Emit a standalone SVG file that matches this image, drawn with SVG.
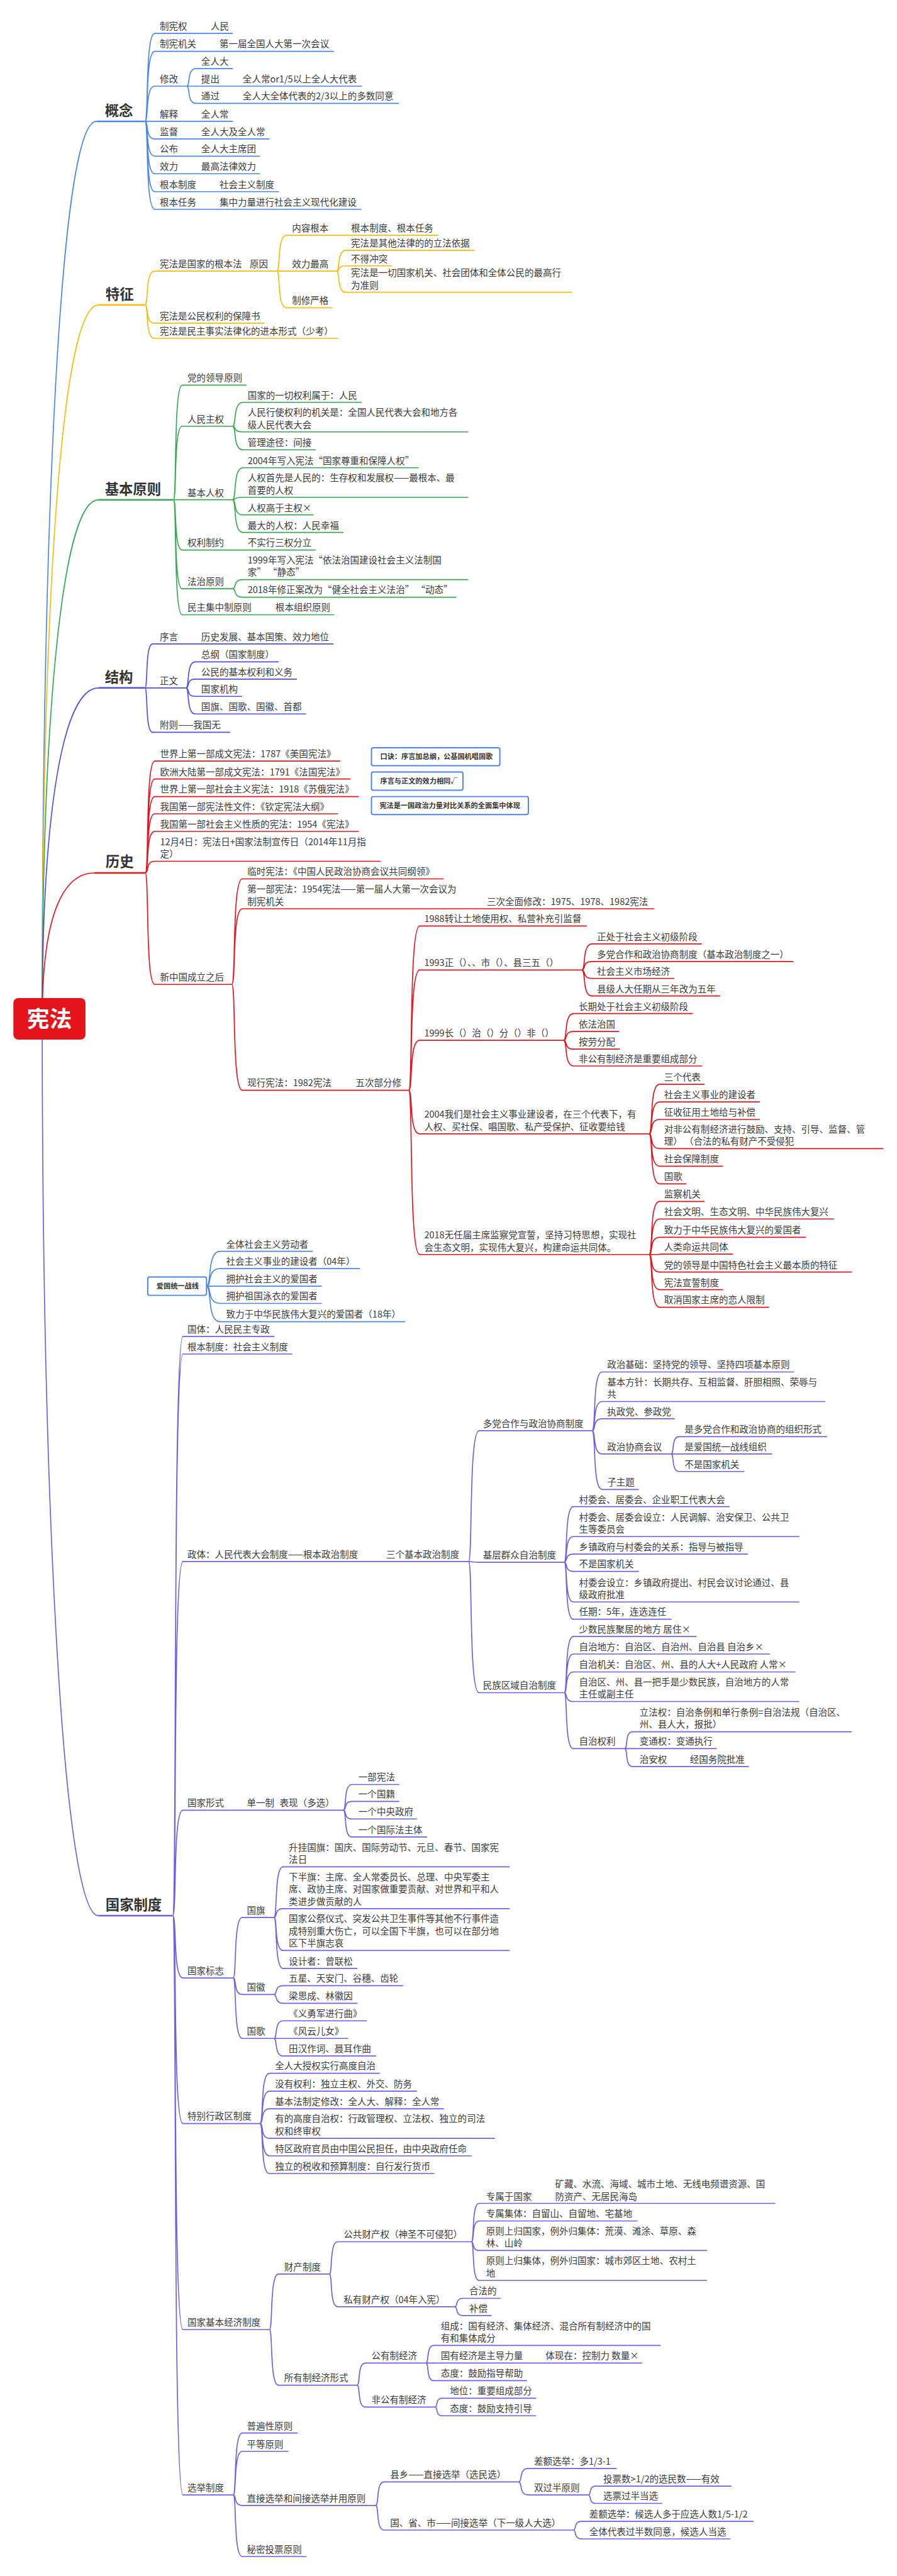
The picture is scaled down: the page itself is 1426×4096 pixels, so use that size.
<svg xmlns="http://www.w3.org/2000/svg" width="1426" height="4096" viewBox="0 0 1426 4096">
<style>
.t{font-family:"Noto Sans CJK SC","Noto Sans",sans-serif;font-size:26px;fill:#3a3a3a}
.h{font-size:40px;font-weight:700;fill:#333}
.bx{font-size:20px;font-weight:700;fill:#333}
.u{fill:none;stroke-width:3;stroke-linecap:round}
.m{fill:none;stroke-width:4.5}
.k1{stroke:#4a86e8}.k2{stroke:#f8bc0c}.k3{stroke:#38a852}.k4{stroke:#4b4ff0}.k5{stroke:#e6141d}.k6{stroke:#6e5fe4}
#connectors path{fill:none;stroke-width:3}
.box{fill:#fff;stroke:#4a86e8;stroke-width:3.5}
</style>
<rect width="1426" height="4096" fill="#fff"/>
<g transform="scale(0.55922)">
<g id="connectors">
<g class="k1">
<path class="m" d="M120 2895C120 1500 170 345 274 345"/>
<path d="M412 345C423 345 412 95 440 95M412 345C423 345 412 146 440 146M412 345C423 345 412 245 440 245M412 345H440M412 345C423 345 412 395 440 395M412 345C423 345 412 444 440 444M412 345C423 345 412 494 440 494M412 345C423 345 412 545 440 545M412 345C423 345 412 595 440 595"/>
<path d="M531 245C541 245 531 195 557 195M531 245H557M531 245C541 245 531 294 557 294"/>
<path d="M587 3657C603 3657 587 3558 626 3558M587 3657C603 3657 587 3607 626 3607M587 3657H626M587 3657C603 3657 587 3706 626 3706M587 3657C603 3657 587 3758 626 3758"/>
</g>
<g class="k2">
<path class="m" d="M120 2895C120 1700 175 867 280 867"/>
<path d="M412 867C423 867 412 771 439 771M412 867C423 867 412 919 439 919M412 867C423 867 412 962 439 962"/>
<path d="M787 771C798 771 787 669 814 669M787 771H814M787 771C798 771 787 875 814 875"/>
<path d="M957 771C967 771 957 712 983 712M957 771C967 771 957 756 983 756M957 771C967 771 957 831 983 831"/>
</g>
<g class="k3">
<path class="m" d="M120 2895C120 2000 180 1421 280 1421"/>
<path d="M493 1421C503 1421 493 1095 518 1095M493 1421C503 1421 493 1212 518 1212M493 1421H518M493 1421C503 1421 493 1564 518 1564M493 1421C503 1421 493 1674 518 1674M493 1421C503 1421 493 1748 518 1748"/>
<path d="M661 1212C673 1212 661 1144 691 1144M661 1212C673 1212 661 1228 691 1228M661 1212C673 1212 661 1279 691 1279"/>
<path d="M661 1421C673 1421 661 1330 691 1330M661 1421C673 1421 661 1414 691 1414M661 1421C673 1421 661 1464 691 1464M661 1421C673 1421 661 1514 691 1514"/>
<path d="M661 1674C673 1674 661 1648 691 1648M661 1674C673 1674 661 1698 691 1698"/>
</g>
<g class="k4">
<path class="m" d="M120 2895C120 2300 180 1956 280 1956"/>
<path d="M412 1956C421 1956 412 1831 434 1831M412 1956H434M412 1956C421 1956 412 2082 434 2082"/>
<path d="M529 1956C539 1956 529 1882 555 1882M529 1956C539 1956 529 1931 555 1931M529 1956C539 1956 529 1980 555 1980M529 1956C539 1956 529 2030 555 2030"/>
</g>
<g class="k5">
<path class="m" d="M120 2895C120 2600 180 2482 268 2482"/>
<path d="M413 2482C424 2482 413 2164 440 2164M413 2482C424 2482 413 2215 440 2215M413 2482C424 2482 413 2265 440 2265M413 2482C424 2482 413 2314 440 2314M413 2482C424 2482 413 2364 440 2364M413 2482C424 2482 413 2449 440 2449M413 2482C424 2482 413 2799 440 2799"/>
<path d="M659 2799C671 2799 659 2499 689 2499M659 2799C671 2799 659 2584 689 2584M659 2799C671 2799 659 3100 689 3100"/>
<path d="M1162 3100C1174 3100 1162 2633 1193 2633M1162 3100C1174 3100 1162 2758 1193 2758M1162 3100C1174 3100 1162 2958 1193 2958M1162 3100C1174 3100 1162 3224 1193 3224M1162 3100C1174 3100 1162 3567 1193 3567"/>
<path d="M1654 2758C1666 2758 1654 2684 1683 2684M1654 2758C1666 2758 1654 2734 1683 2734M1654 2758C1666 2758 1654 2782 1683 2782M1654 2758C1666 2758 1654 2832 1683 2832"/>
<path d="M1602 2958C1614 2958 1602 2882 1631 2882M1602 2958C1614 2958 1602 2933 1631 2933M1602 2958C1614 2958 1602 2983 1631 2983M1602 2958C1614 2958 1602 3031 1631 3031"/>
<path d="M1845 3224C1857 3224 1845 3083 1875 3083M1845 3224C1857 3224 1845 3133 1875 3133M1845 3224C1857 3224 1845 3183 1875 3183M1845 3224C1857 3224 1845 3266 1875 3266M1845 3224C1857 3224 1845 3316 1875 3316M1845 3224C1857 3224 1845 3366 1875 3366"/>
<path d="M1845 3567C1857 3567 1845 3416 1875 3416M1845 3567C1857 3567 1845 3466 1875 3466M1845 3567C1857 3567 1845 3518 1875 3518M1845 3567H1875M1845 3567C1857 3567 1845 3617 1875 3617M1845 3567C1857 3567 1845 3667 1875 3667M1845 3567C1857 3567 1845 3717 1875 3717"/>
</g>
<g class="k6">
<path class="m" d="M120 2895C120 4300 180 5447 280 5447"/>
<path d="M491 5447C503 5447 491 3800 520 3800M491 5447C503 5447 491 3850 520 3850M491 5447C503 5447 491 4440 520 4440M491 5447C503 5447 491 5147 520 5147M491 5447C503 5447 491 5624 520 5624M491 5447C503 5447 491 6038 520 6038M491 5447C503 5447 491 6624 520 6624M491 5447C503 5447 491 7094 520 7094"/>
<path d="M1332 4440C1344 4440 1332 4068 1362 4068M1332 4440C1344 4440 1332 4442 1362 4442M1332 4440C1344 4440 1332 4813 1362 4813"/>
<path d="M1683 4068C1695 4068 1683 3901 1712 3901M1683 4068C1695 4068 1683 3985 1712 3985M1683 4068C1695 4068 1683 4034 1712 4034M1683 4068C1695 4068 1683 4134 1712 4134M1683 4068C1695 4068 1683 4235 1712 4235"/>
<path d="M1908 4134C1917 4134 1908 4085 1930 4085M1908 4134H1930M1908 4134C1917 4134 1908 4184 1930 4184"/>
<path d="M1604 4442C1614 4442 1604 4284 1630 4284M1604 4442C1614 4442 1604 4369 1630 4369M1604 4442C1614 4442 1604 4419 1630 4419M1604 4442C1614 4442 1604 4468 1630 4468M1604 4442C1614 4442 1604 4555 1630 4555M1604 4442C1614 4442 1604 4604 1630 4604"/>
<path d="M1604 4813C1614 4813 1604 4653 1630 4653M1604 4813C1614 4813 1604 4703 1630 4703M1604 4813C1614 4813 1604 4754 1630 4754M1604 4813C1614 4813 1604 4838 1630 4838M1604 4813C1614 4813 1604 4972 1630 4972"/>
<path d="M1776 4972C1785 4972 1776 4924 1798 4924M1776 4972H1798M1776 4972C1785 4972 1776 5023 1798 5023"/>
<path d="M976 5147C986 5147 976 5074 1000 5074M976 5147C986 5147 976 5122 1000 5122M976 5147C986 5147 976 5172 1000 5172M976 5147C986 5147 976 5223 1000 5223"/>
<path d="M663 5624C673 5624 663 5452 689 5452M663 5624C673 5624 663 5671 689 5671M663 5624C673 5624 663 5796 689 5796"/>
<path d="M779 5452C789 5452 779 5308 805 5308M779 5452C789 5452 779 5427 805 5427M779 5452C789 5452 779 5546 805 5546M779 5452C789 5452 779 5597 805 5597"/>
<path d="M779 5671C789 5671 779 5646 805 5646M779 5671C789 5671 779 5696 805 5696"/>
<path d="M779 5796C789 5796 779 5746 805 5746M779 5796H805M779 5796C789 5796 779 5846 805 5846"/>
<path d="M739 6038C750 6038 739 5895 766 5895M739 6038C750 6038 739 5946 766 5946M739 6038C750 6038 739 5996 766 5996M739 6038C750 6038 739 6080 766 6080M739 6038C750 6038 739 6130 766 6130M739 6038C750 6038 739 6180 766 6180"/>
<path d="M766 6624C776 6624 766 6466 792 6466M766 6624C776 6624 766 6782 792 6782"/>
<path d="M936 6466C946 6466 936 6374 960 6374M936 6466C946 6466 936 6559 960 6559"/>
<path d="M1340 6374C1349 6374 1340 6265 1362 6265M1340 6374C1349 6374 1340 6315 1362 6315M1340 6374C1349 6374 1340 6399 1362 6399M1340 6374C1349 6374 1340 6484 1362 6484"/>
<path d="M1293 6559C1302 6559 1293 6535 1316 6535M1293 6559C1302 6559 1293 6584 1316 6584"/>
<path d="M1015 6782C1025 6782 1015 6719 1039 6719M1015 6782C1025 6782 1015 6844 1039 6844"/>
<path d="M1211 6719C1220 6719 1211 6669 1233 6669M1211 6719H1233M1211 6719C1220 6719 1211 6769 1233 6769"/>
<path d="M1237 6844C1245 6844 1237 6819 1257 6819M1237 6844C1245 6844 1237 6869 1257 6869"/>
<path d="M663 7094C673 7094 663 6918 689 6918M663 7094C673 7094 663 6970 689 6970M663 7094C673 7094 663 7124 689 7124M663 7094C673 7094 663 7269 689 7269"/>
<path d="M1068 7124C1078 7124 1068 7057 1092 7057M1068 7124C1078 7124 1068 7194 1092 7194"/>
<path d="M1475 7057C1485 7057 1475 7019 1501 7019M1475 7057C1485 7057 1475 7094 1501 7094"/>
<path d="M1673 7094C1681 7094 1673 7069 1693 7069M1673 7094C1681 7094 1673 7118 1693 7118"/>
<path d="M1630 7194C1639 7194 1630 7169 1653 7169M1630 7194C1639 7194 1630 7219 1653 7219"/>
</g>
</g>

<g id="root"><rect x="38" y="2838" width="205" height="118" rx="14" fill="#e5141b"/><text class="t" x="140.5" y="2920" text-anchor="middle" style="font-size:64px;font-weight:700;fill:#fff">宪法</text></g>

<!-- 概念 -->
<g id="n-gainian"><text class="t h" x="298" y="329">概念</text><path class="m k1" d="M274 345H412"/></g>
<g id="n-zhixianquan"><text class="t" x="454" y="84">制宪权</text><text class="t" x="599" y="84">人民</text><path class="u k1" d="M440 95H661"/></g>
<g id="n-zhixianjiguan"><text class="t" x="454" y="135">制宪机关</text><text class="t" x="624" y="135">第一届全国人大第一次会议</text><path class="u k1" d="M440 146H948"/></g>
<g id="n-xiugai"><text class="t" x="454" y="234">修改</text><path class="u k1" d="M440 245H531"/></g>
<g id="n-quanrenda"><text class="t" x="572" y="184">全人大</text><path class="u k1" d="M557 195H661"/></g>
<g id="n-tichu"><text class="t" x="572" y="234">提出</text><text class="t" x="690" y="234">全人常or1/5以上全人大代表</text><path class="u k1" d="M557 245H1028"/></g>
<g id="n-tongguo"><text class="t" x="572" y="283">通过</text><text class="t" x="690" y="283">全人大全体代表的2/3以上的多数同意</text><path class="u k1" d="M557 294H1133"/></g>
<g id="n-jieshi"><text class="t" x="454" y="334">解释</text><text class="t" x="572" y="334">全人常</text><path class="u k1" d="M440 345H661"/></g>
<g id="n-jiandu"><text class="t" x="454" y="384">监督</text><text class="t" x="572" y="384">全人大及全人常</text><path class="u k1" d="M440 395H765"/></g>
<g id="n-gongbu"><text class="t" x="454" y="433">公布</text><text class="t" x="572" y="433">全人大主席团</text><path class="u k1" d="M440 444H738"/></g>
<g id="n-xiaoli"><text class="t" x="454" y="483">效力</text><text class="t" x="572" y="483">最高法律效力</text><path class="u k1" d="M440 494H738"/></g>
<g id="n-genbenzhidu"><text class="t" x="454" y="534">根本制度</text><text class="t" x="624" y="534">社会主义制度</text><path class="u k1" d="M440 545H792"/></g>
<g id="n-genbenrenwu"><text class="t" x="454" y="584">根本任务</text><text class="t" x="624" y="584">集中力量进行社会主义现代化建设</text><path class="u k1" d="M440 595H1026"/></g>

<!-- 特征 -->
<g id="n-tezheng"><text class="t h" x="300" y="852">特征</text><path class="m k2" d="M280 867H412"/></g>
<g id="n-genbenfa"><text class="t" x="454" y="760">宪法是国家的根本法</text><text class="t" x="710" y="760">原因</text><path class="u k2" d="M439 771H787"/></g>
<g id="n-neirong"><text class="t" x="830" y="658">内容根本</text><text class="t" x="998" y="658">根本制度、根本任务</text><path class="u k2" d="M814 669H1245"/></g>
<g id="n-xiaoligao"><text class="t" x="830" y="760">效力最高</text><path class="u k2" d="M814 771H957"/></g>
<g id="n-lifa"><text class="t" x="998" y="701">宪法是其他法律的的立法依据</text><path class="u k2" d="M983 712H1348"/></g>
<g id="n-butong"><text class="t" x="998" y="745">不得冲突</text><path class="u k2" d="M983 756H1114"/></g>
<g id="n-zuigao"><text class="t" x="998" y="785">宪法是一切国家机关、社会团体和全体公民的最高行</text><text class="t" x="998" y="820">为准则</text><path class="u k2" d="M983 831H1625"/></g>
<g id="n-zhixiu"><text class="t" x="830" y="864">制修严格</text><path class="u k2" d="M814 875H944"/></g>
<g id="n-baozhang"><text class="t" x="454" y="908">宪法是公民权利的保障书</text><path class="u k2" d="M439 919H751"/></g>
<g id="n-minzhu"><text class="t" x="454" y="951">宪法是民主事实法律化的进本形式（少考）</text><path class="u k2" d="M439 962H960"/></g>

<!-- 基本原则 -->
<g id="n-jbyz"><text class="t h" x="298" y="1406">基本原则</text><path class="m k3" d="M280 1421H493"/></g>
<g id="n-dang"><text class="t" x="533" y="1084">党的领导原则</text><path class="u k3" d="M518 1095H700"/></g>
<g id="n-renmin"><text class="t" x="533" y="1201">人民主权</text><path class="u k3" d="M518 1212H661"/></g>
<g id="n-rm1"><text class="t" x="704" y="1133">国家的一切权利属于：人民</text><path class="u k3" d="M691 1144H1027"/></g>
<g id="n-rm2"><text class="t" x="704" y="1182">人民行使权利的机关是：全国人民代表大会和地方各</text><text class="t" x="704" y="1217">级人民代表大会</text><path class="u k3" d="M691 1228H1330"/></g>
<g id="n-rm3"><text class="t" x="704" y="1268">管理途径：间接</text><path class="u k3" d="M691 1279H896"/></g>
<g id="n-renquan"><text class="t" x="533" y="1410">基本人权</text><path class="u k3" d="M518 1421H661"/></g>
<g id="n-rq1"><text class="t" x="704" y="1319">2004年写入宪法“国家尊重和保障人权”</text><path class="u k3" d="M691 1330H1189"/></g>
<g id="n-rq2"><text class="t" x="704" y="1368">人权首先是人民的：生存权和发展权——最根本、最</text><text class="t" x="704" y="1403">首要的人权</text><path class="u k3" d="M691 1414H1330"/></g>
<g id="n-rq3"><text class="t" x="704" y="1453">人权高于主权×</text><path class="u k3" d="M691 1464H890"/></g>
<g id="n-rq4"><text class="t" x="704" y="1503">最大的人权：人民幸福</text><path class="u k3" d="M691 1514H975"/></g>
<g id="n-zhiyue"><text class="t" x="533" y="1553">权利制约</text><text class="t" x="704" y="1553">不实行三权分立</text><path class="u k3" d="M518 1564H896"/></g>
<g id="n-fazhi"><text class="t" x="533" y="1663">法治原则</text><path class="u k3" d="M518 1674H661"/></g>
<g id="n-fz1"><text class="t" x="704" y="1602">1999年写入宪法“依法治国建设社会主义法制国</text><text class="t" x="704" y="1637">家”  “静态”</text><path class="u k3" d="M691 1648H1330"/></g>
<g id="n-fz2"><text class="t" x="704" y="1687">2018年修正案改为“健全社会主义法治”  “动态”</text><path class="u k3" d="M691 1698H1296"/></g>
<g id="n-mzjz"><text class="t" x="533" y="1737">民主集中制原则</text><text class="t" x="783" y="1737">根本组织原则</text><path class="u k3" d="M518 1748H949"/></g>

<!-- 结构 -->
<g id="n-jiegou"><text class="t h" x="298" y="1940">结构</text><path class="m k4" d="M280 1956H412"/></g>
<g id="n-xuyan"><text class="t" x="454" y="1820">序言</text><text class="t" x="572" y="1820">历史发展、基本国策、效力地位</text><path class="u k4" d="M434 1831H947"/></g>
<g id="n-zhengwen"><text class="t" x="454" y="1945">正文</text><path class="u k4" d="M434 1956H529"/></g>
<g id="n-zw1"><text class="t" x="572" y="1871">总纲（国家制度）</text><path class="u k4" d="M555 1882H791"/></g>
<g id="n-zw2"><text class="t" x="572" y="1920">公民的基本权利和义务</text><path class="u k4" d="M555 1931H843"/></g>
<g id="n-zw3"><text class="t" x="572" y="1969">国家机构</text><path class="u k4" d="M555 1980H687"/></g>
<g id="n-zw4"><text class="t" x="572" y="2019">国旗、国歌、国徽、首都</text><path class="u k4" d="M555 2030H869"/></g>
<g id="n-fuze"><text class="t" x="454" y="2071">附则——我国无</text><path class="u k4" d="M434 2082H653"/></g>

<!-- 历史 -->
<g id="n-lishi"><text class="t h" x="300" y="2465">历史</text><path class="m k5" d="M268 2482H413"/></g>
<g id="n-ls1"><text class="t" x="455" y="2153">世界上第一部成文宪法：1787《美国宪法》</text><path class="u k5" d="M440 2164H966"/></g>
<g id="n-ls2"><text class="t" x="455" y="2204">欧洲大陆第一部成文宪法：1791《法国宪法》</text><path class="u k5" d="M440 2215H995"/></g>
<g id="n-ls3"><text class="t" x="455" y="2254">世界上第一部社会主义宪法：1918《苏俄宪法》</text><path class="u k5" d="M440 2265H1019"/></g>
<g id="n-ls4"><text class="t" x="455" y="2303">我国第一部宪法性文件：《钦定宪法大纲》</text><path class="u k5" d="M440 2314H960"/></g>
<g id="n-ls5"><text class="t" x="455" y="2353">我国第一部社会主义性质的宪法：1954《宪法》</text><path class="u k5" d="M440 2364H1019"/></g>
<g id="n-ls6"><text class="t" x="455" y="2403">12月4日：宪法日+国家法制宣传日（2014年11月指</text><text class="t" x="455" y="2438">定）</text><path class="u k5" d="M440 2449H1081"/></g>
<g id="n-xinzhongguo"><text class="t" x="455" y="2788">新中国成立之后</text><path class="u k5" d="M440 2799H659"/></g>
<g id="n-lin"><text class="t" x="703" y="2488">临时宪法：《中国人民政治协商会议共同纲领》</text><path class="u k5" d="M689 2499H1260"/></g>
<g id="n-diyibu"><text class="t" x="703" y="2538">第一部宪法：1954宪法——第一届人大第一次会议为</text><text class="t" x="703" y="2573">制宪机关</text><text class="t" x="1384" y="2573">三次全面修改：1975、1978、1982宪法</text><path class="u k5" d="M689 2584H1859"/></g>
<g id="n-xianxing"><text class="t" x="703" y="3089">现行宪法：1982宪法</text><text class="t" x="1011" y="3089">五次部分修</text><path class="u k5" d="M689 3100H1162"/></g>
<g id="n-1988"><text class="t" x="1206" y="2622">1988转让土地使用权、私营补充引监督</text><path class="u k5" d="M1193 2633H1667"/></g>
<g id="n-1993"><text class="t" x="1206" y="2747">1993正（）、、市（）、县三五（）</text><path class="u k5" d="M1193 2758H1654"/></g>
<g id="n-93a"><text class="t" x="1697" y="2673">正处于社会主义初级阶段</text><path class="u k5" d="M1683 2684H1994"/></g>
<g id="n-93b"><text class="t" x="1697" y="2723">多党合作和政治协商制度（基本政治制度之一）</text><path class="u k5" d="M1683 2734H2254"/></g>
<g id="n-93c"><text class="t" x="1697" y="2771">社会主义市场经济</text><path class="u k5" d="M1683 2782H1916"/></g>
<g id="n-93d"><text class="t" x="1697" y="2821">县级人大任期从三年改为五年</text><path class="u k5" d="M1683 2832H2046"/></g>
<g id="n-1999"><text class="t" x="1206" y="2947">1999长（）治（）分（）非（）</text><path class="u k5" d="M1193 2958H1602"/></g>
<g id="n-99a"><text class="t" x="1645" y="2871">长期处于社会主义初级阶段</text><path class="u k5" d="M1631 2882H1968"/></g>
<g id="n-99b"><text class="t" x="1645" y="2922">依法治国</text><path class="u k5" d="M1631 2933H1759"/></g>
<g id="n-99c"><text class="t" x="1645" y="2972">按劳分配</text><path class="u k5" d="M1631 2983H1761"/></g>
<g id="n-99d"><text class="t" x="1645" y="3020">非公有制经济是重要组成部分</text><path class="u k5" d="M1631 3031H1995"/></g>
<g id="n-2004"><text class="t" x="1206" y="3178">2004我们是社会主义事业建设者，在三个代表下，有</text><text class="t" x="1206" y="3213">人权、买社保、唱国歌、私产受保护、征收要给钱</text><path class="u k5" d="M1193 3224H1845"/></g>
<g id="n-04a"><text class="t" x="1888" y="3072">三个代表</text><path class="u k5" d="M1875 3083H2002"/></g>
<g id="n-04b"><text class="t" x="1888" y="3122">社会主义事业的建设者</text><path class="u k5" d="M1875 3133H2159"/></g>
<g id="n-04c"><text class="t" x="1888" y="3172">征收征用土地给与补偿</text><path class="u k5" d="M1875 3183H2159"/></g>
<g id="n-04d"><text class="t" x="1888" y="3220">对非公有制经济进行鼓励、支持、引导、监督、管</text><text class="t" x="1888" y="3255">理） （合法的私有财产不受侵犯</text><path class="u k5" d="M1875 3266H2510"/></g>
<g id="n-04e"><text class="t" x="1888" y="3305">社会保障制度</text><path class="u k5" d="M1875 3316H2054"/></g>
<g id="n-04f"><text class="t" x="1888" y="3355">国歌</text><path class="u k5" d="M1875 3366H1950"/></g>
<g id="n-2018"><text class="t" x="1206" y="3521">2018无任届主席监察党宣誓，坚持习特思想，实现社</text><text class="t" x="1206" y="3556">会生态文明，实现伟大复兴，构建命运共同体。</text><path class="u k5" d="M1193 3567H1845"/></g>
<g id="n-18a"><text class="t" x="1888" y="3405">监察机关</text><path class="u k5" d="M1875 3416H2002"/></g>
<g id="n-18b"><text class="t" x="1888" y="3455">社会文明、生态文明、中华民族伟大复兴</text><path class="u k5" d="M1875 3466H2370"/></g>
<g id="n-18c"><text class="t" x="1888" y="3507">致力于中华民族伟大复兴的爱国者</text><path class="u k5" d="M1875 3518H2290"/></g>
<g id="n-18d"><text class="t" x="1888" y="3555">人类命运共同体</text><path class="u k5" d="M1875 3566H2082"/></g>
<g id="n-18e"><text class="t" x="1888" y="3606">党的领导是中国特色社会主义最本质的特征</text><path class="u k5" d="M1875 3617H2420"/></g>
<g id="n-18f"><text class="t" x="1888" y="3656">宪法宣誓制度</text><path class="u k5" d="M1875 3667H2054"/></g>
<g id="n-18g"><text class="t" x="1888" y="3706">取消国家主席的恋人限制</text><path class="u k5" d="M1875 3717H2185"/></g>

<!-- floating boxes -->
<g id="n-koujue"><rect class="box" x="1056" y="2126" width="365" height="51" rx="5"/><text class="t bx" x="1081" y="2158">口诀：序言加总纲，公基国机唱国歌</text></g>
<g id="n-xiaolixiangtong"><rect class="box" x="1056" y="2195" width="260" height="52" rx="5"/><text class="t bx" x="1081" y="2228">序言与正文的效力相同√</text></g>
<g id="n-zhengzhililiang"><rect class="box" x="1056" y="2265" width="446" height="51" rx="5"/><text class="t bx" x="1079" y="2298">宪法是一国政治力量对比关系的全面集中体现</text></g>

<!-- 爱国统一战线 -->
<g id="n-aiguo"><rect class="box" x="420" y="3631" width="167" height="52" rx="5"/><text class="t bx" x="445" y="3664">爱国统一战线</text></g>
<g id="n-ag1"><text class="t" x="643" y="3547">全体社会主义劳动者</text><path class="u k1" d="M626 3558H888"/></g>
<g id="n-ag2"><text class="t" x="643" y="3596">社会主义事业的建设者（04年）</text><path class="u k1" d="M626 3607H1022"/></g>
<g id="n-ag3"><text class="t" x="643" y="3646">拥护社会主义的爱国者</text><path class="u k1" d="M626 3657H914"/></g>
<g id="n-ag4"><text class="t" x="643" y="3695">拥护祖国泳衣的爱国者</text><path class="u k1" d="M626 3706H914"/></g>
<g id="n-ag5"><text class="t" x="643" y="3747">致力于中华民族伟大复兴的爱国者（18年）</text><path class="u k1" d="M626 3758H1151"/></g>

<!-- 国家制度 -->
<g id="n-guojia"><text class="t h" x="300" y="5431">国家制度</text><path class="m k6" d="M280 5447H491"/></g>
<g id="n-guoti"><text class="t" x="533" y="3789">国体：人民民主专政</text><path class="u k6" d="M520 3800H779"/></g>
<g id="n-gbzd"><text class="t" x="533" y="3839">根本制度：社会主义制度</text><path class="u k6" d="M520 3850H830"/></g>
<g id="n-zhengti"><text class="t" x="533" y="4429">政体：人民代表大会制度——根本政治制度</text><text class="t" x="1098" y="4429">三个基本政治制度</text><path class="u k6" d="M520 4440H1332"/></g>
<g id="n-duodang"><text class="t" x="1373" y="4057">多党合作与政治协商制度</text><path class="u k6" d="M1362 4068H1683"/></g>
<g id="n-dd1"><text class="t" x="1726" y="3890">政治基础：坚持党的领导、坚持四项基本原则</text><path class="u k6" d="M1712 3901H2256"/></g>
<g id="n-dd2"><text class="t" x="1726" y="3939">基本方针：长期共存、互相监督、肝胆相照、荣辱与</text><text class="t" x="1726" y="3974">共</text><path class="u k6" d="M1712 3985H2345"/></g>
<g id="n-dd3"><text class="t" x="1726" y="4023">执政党、参政党</text><path class="u k6" d="M1712 4034H1917"/></g>
<g id="n-dd4"><text class="t" x="1726" y="4123">政治协商会议</text><path class="u k6" d="M1712 4134H1908"/></g>
<g id="n-zx1"><text class="t" x="1946" y="4074">是多党合作和政治协商的组织形式</text><path class="u k6" d="M1930 4085H2350"/></g>
<g id="n-zx2"><text class="t" x="1946" y="4123">是爱国统一战线组织</text><path class="u k6" d="M1930 4134H2194"/></g>
<g id="n-zx3"><text class="t" x="1946" y="4173">不是国家机关</text><path class="u k6" d="M1930 4184H2115"/></g>
<g id="n-dd5"><text class="t" x="1726" y="4224">子主题</text><path class="u k6" d="M1712 4235H1815"/></g>
<g id="n-jiceng"><text class="t" x="1373" y="4431">基层群众自治制度</text><path class="u k6" d="M1362 4442H1604"/></g>
<g id="n-jc1"><text class="t" x="1646" y="4273">村委会、居委会、企业职工代表大会</text><path class="u k6" d="M1630 4284H2073"/></g>
<g id="n-jc2"><text class="t" x="1646" y="4323">村委会、居委会设立：人民调解、治安保卫、公共卫</text><text class="t" x="1646" y="4358">生等委员会</text><path class="u k6" d="M1630 4369H2271"/></g>
<g id="n-jc3"><text class="t" x="1646" y="4408">乡镇政府与村委会的关系：指导与被指导</text><path class="u k6" d="M1630 4419H2125"/></g>
<g id="n-jc4"><text class="t" x="1646" y="4457">不是国家机关</text><path class="u k6" d="M1630 4468H1815"/></g>
<g id="n-jc5"><text class="t" x="1646" y="4509">村委会设立：乡镇政府提出、村民会议讨论通过、县</text><text class="t" x="1646" y="4544">级政府批准</text><path class="u k6" d="M1630 4555H2271"/></g>
<g id="n-jc6"><text class="t" x="1646" y="4593">任期：5年，连选连任</text><path class="u k6" d="M1630 4604H1908"/></g>
<g id="n-minzu"><text class="t" x="1373" y="4802">民族区域自治制度</text><path class="u k6" d="M1362 4813H1604"/></g>
<g id="n-mz1"><text class="t" x="1646" y="4642">少数民族聚居的地方  居住×</text><path class="u k6" d="M1630 4653H1979"/></g>
<g id="n-mz2"><text class="t" x="1646" y="4692">自治地方：自治区、自治州、自治县  自治乡×</text><path class="u k6" d="M1630 4703H2188"/></g>
<g id="n-mz3"><text class="t" x="1646" y="4743">自治机关：自治区、州、县的人大+人民政府  人常×</text><path class="u k6" d="M1630 4754H2260"/></g>
<g id="n-mz4"><text class="t" x="1646" y="4792">自治区、州、县一把手是少数民族，自治地方的人常</text><text class="t" x="1646" y="4827">主任或副主任</text><path class="u k6" d="M1630 4838H2271"/></g>
<g id="n-mz5"><text class="t" x="1646" y="4961">自治权利</text><path class="u k6" d="M1630 4972H1776"/></g>
<g id="n-zq1"><text class="t" x="1818" y="4878">立法权：自治条例和单行条例=自治法规（自治区、</text><text class="t" x="1818" y="4913">州、县人大，报批）</text><path class="u k6" d="M1798 4924H2420"/></g>
<g id="n-zq2"><text class="t" x="1818" y="4961">变通权：变通执行</text><path class="u k6" d="M1798 4972H2036"/></g>
<g id="n-zq3"><text class="t" x="1818" y="5012">治安权</text><text class="t" x="1961" y="5012">经国务院批准</text><path class="u k6" d="M1798 5023H2128"/></g>
<g id="n-xingshi"><text class="t" x="533" y="5136">国家形式</text><text class="t" x="702" y="5136">单一制</text><text class="t" x="795" y="5136">表现（多选）</text><path class="u k6" d="M520 5147H976"/></g>
<g id="n-xs1"><text class="t" x="1019" y="5063">一部宪法</text><path class="u k6" d="M1000 5074H1134"/></g>
<g id="n-xs2"><text class="t" x="1019" y="5111">一个国籍</text><path class="u k6" d="M1000 5122H1134"/></g>
<g id="n-xs3"><text class="t" x="1019" y="5161">一个中央政府</text><path class="u k6" d="M1000 5172H1184"/></g>
<g id="n-xs4"><text class="t" x="1019" y="5212">一个国际法主体</text><path class="u k6" d="M1000 5223H1213"/></g>
<g id="n-biaozhi"><text class="t" x="533" y="5613">国家标志</text><path class="u k6" d="M520 5624H663"/></g>
<g id="n-guoqi"><text class="t" x="702" y="5441">国旗</text><path class="u k6" d="M689 5452H779"/></g>
<g id="n-gq1"><text class="t" x="821" y="5262">升挂国旗：国庆、国际劳动节、元旦、春节、国家宪</text><text class="t" x="821" y="5297">法日</text><path class="u k6" d="M805 5308H1448"/></g>
<g id="n-gq2"><text class="t" x="821" y="5346">下半旗：主席、全人常委员长、总理、中央军委主</text><text class="t" x="821" y="5381">席、政协主席、对国家做重要贡献、对世界和平和人</text><text class="t" x="821" y="5416">类进步做贡献的人</text><path class="u k6" d="M805 5427H1448"/></g>
<g id="n-gq3"><text class="t" x="821" y="5465">国家公祭仪式、突发公共卫生事件等其他不行事件造</text><text class="t" x="821" y="5500">成特别重大伤亡，可以全国下半旗，也可以在部分地</text><text class="t" x="821" y="5535">区下半旗志哀</text><path class="u k6" d="M805 5546H1448"/></g>
<g id="n-gq4"><text class="t" x="821" y="5586">设计者：曾联松</text><path class="u k6" d="M805 5597H1015"/></g>
<g id="n-guohui"><text class="t" x="702" y="5660">国徽</text><path class="u k6" d="M689 5671H779"/></g>
<g id="n-gh1"><text class="t" x="821" y="5635">五星、天安门、谷穗、齿轮</text><path class="u k6" d="M805 5646H1145"/></g>
<g id="n-gh2"><text class="t" x="821" y="5685">梁思成、林徽因</text><path class="u k6" d="M805 5696H1015"/></g>
<g id="n-guoge"><text class="t" x="702" y="5785">国歌</text><path class="u k6" d="M689 5796H779"/></g>
<g id="n-gg1"><text class="t" x="821" y="5735">《义勇军进行曲》</text><path class="u k6" d="M805 5746H1042"/></g>
<g id="n-gg2"><text class="t" x="821" y="5785">《风云儿女》</text><path class="u k6" d="M805 5796H989"/></g>
<g id="n-gg3"><text class="t" x="821" y="5835">田汉作词、聂耳作曲</text><path class="u k6" d="M805 5846H1068"/></g>
<g id="n-tebie"><text class="t" x="533" y="6027">特别行政区制度</text><path class="u k6" d="M520 6038H739"/></g>
<g id="n-tb1"><text class="t" x="782" y="5884">全人大授权实行高度自治</text><path class="u k6" d="M766 5895H1079"/></g>
<g id="n-tb2"><text class="t" x="782" y="5935">没有权利：独立主权、外交、防务</text><path class="u k6" d="M766 5946H1184"/></g>
<g id="n-tb3"><text class="t" x="782" y="5985">基本法制定修改：全人大、解释：全人常</text><path class="u k6" d="M766 5996H1261"/></g>
<g id="n-tb4"><text class="t" x="782" y="6034">有的高度自治权：行政管理权、立法权、独立的司法</text><text class="t" x="782" y="6069">权和终审权</text><path class="u k6" d="M766 6080H1406"/></g>
<g id="n-tb5"><text class="t" x="782" y="6119">特区政府官员由中国公民担任，由中央政府任命</text><path class="u k6" d="M766 6130H1340"/></g>
<g id="n-tb6"><text class="t" x="782" y="6169">独立的税收和预算制度：自行发行货币</text><path class="u k6" d="M766 6180H1234"/></g>
<g id="n-jingji"><text class="t" x="533" y="6613">国家基本经济制度</text><path class="u k6" d="M520 6624H766"/></g>
<g id="n-caichan"><text class="t" x="808" y="6455">财产制度</text><path class="u k6" d="M792 6466H936"/></g>
<g id="n-gonggong"><text class="t" x="977" y="6363">公共财产权（神圣不可侵犯）</text><path class="u k6" d="M960 6374H1340"/></g>
<g id="n-gc1"><text class="t" x="1382" y="6255">专属于国家</text><text class="t" x="1578" y="6220">矿藏、水流、海域、城市土地、无线电频谱资源、国</text><text class="t" x="1578" y="6255">防资产、无居民海岛</text><path class="u k6" d="M1362 6265H2203"/></g>
<g id="n-gc2"><text class="t" x="1382" y="6304">专属集体：自留山、自留地、宅基地</text><path class="u k6" d="M1362 6315H1811"/></g>
<g id="n-gc3"><text class="t" x="1382" y="6353">原则上归国家，例外归集体：荒漠、滩涂、草原、森</text><text class="t" x="1382" y="6388">林、山岭</text><path class="u k6" d="M1362 6399H2009"/></g>
<g id="n-gc4"><text class="t" x="1382" y="6438">原则上归集体，例外归国家：城市郊区土地、农村土</text><text class="t" x="1382" y="6473">地</text><path class="u k6" d="M1362 6484H2009"/></g>
<g id="n-siyou"><text class="t" x="977" y="6548">私有财产权（04年入宪）</text><path class="u k6" d="M960 6559H1293"/></g>
<g id="n-sy1"><text class="t" x="1334" y="6524">合法的</text><path class="u k6" d="M1316 6535H1422"/></g>
<g id="n-sy2"><text class="t" x="1334" y="6573">补偿</text><path class="u k6" d="M1316 6584H1396"/></g>
<g id="n-suoyou"><text class="t" x="808" y="6771">所有制经济形式</text><path class="u k6" d="M792 6782H1015"/></g>
<g id="n-gongyou"><text class="t" x="1056" y="6708">公有制经济</text><path class="u k6" d="M1039 6719H1211"/></g>
<g id="n-gy1"><text class="t" x="1253" y="6623">组成：国有经济、集体经济、混合所有制经济中的国</text><text class="t" x="1253" y="6658">有和集体成分</text><path class="u k6" d="M1233 6669H1877"/></g>
<g id="n-gy2"><text class="t" x="1253" y="6708">国有经济是主导力量</text><text class="t" x="1551" y="6708">体现在：控制力 数量×</text><path class="u k6" d="M1233 6719H1824"/></g>
<g id="n-gy3"><text class="t" x="1253" y="6758">态度：鼓励指导帮助</text><path class="u k6" d="M1233 6769H1497"/></g>
<g id="n-feigong"><text class="t" x="1056" y="6833">非公有制经济</text><path class="u k6" d="M1039 6844H1237"/></g>
<g id="n-fg1"><text class="t" x="1279" y="6808">地位：重要组成部分</text><path class="u k6" d="M1257 6819H1523"/></g>
<g id="n-fg2"><text class="t" x="1279" y="6858">态度：鼓励支持引导</text><path class="u k6" d="M1257 6869H1523"/></g>
<g id="n-xuanju"><text class="t" x="533" y="7083">选举制度</text><path class="u k6" d="M520 7094H663"/></g>
<g id="n-xj1"><text class="t" x="702" y="6907">普遍性原则</text><path class="u k6" d="M689 6918H845"/></g>
<g id="n-xj2"><text class="t" x="702" y="6959">平等原则</text><path class="u k6" d="M689 6970H819"/></g>
<g id="n-xj3"><text class="t" x="702" y="7113">直接选举和间接选举并用原则</text><path class="u k6" d="M689 7124H1068"/></g>
<g id="n-zj1"><text class="t" x="1109" y="7046">县乡——直接选举（选民选）</text><path class="u k6" d="M1092 7057H1475"/></g>
<g id="n-xx1"><text class="t" x="1518" y="7008">差额选举：多1/3-1</text><path class="u k6" d="M1501 7019H1752"/></g>
<g id="n-xx2"><text class="t" x="1518" y="7083">双过半原则</text><path class="u k6" d="M1501 7094H1673"/></g>
<g id="n-sg1"><text class="t" x="1715" y="7058">投票数&gt;1/2的选民数——有效</text><path class="u k6" d="M1693 7069H2078"/></g>
<g id="n-sg2"><text class="t" x="1715" y="7107">选票过半当选</text><path class="u k6" d="M1693 7118H1881"/></g>
<g id="n-zj2"><text class="t" x="1109" y="7183">国、省、市——间接选举（下一级人大选）</text><path class="u k6" d="M1092 7194H1630"/></g>
<g id="n-jj1"><text class="t" x="1675" y="7158">差额选举：候选人多于应选人数1/5-1/2</text><path class="u k6" d="M1653 7169H2141"/></g>
<g id="n-jj2"><text class="t" x="1675" y="7208">全体代表过半数同意，候选人当选</text><path class="u k6" d="M1653 7219H2075"/></g>
<g id="n-xj4"><text class="t" x="702" y="7258">秘密投票原则</text><path class="u k6" d="M689 7269H870"/></g>
</g>
</svg>
